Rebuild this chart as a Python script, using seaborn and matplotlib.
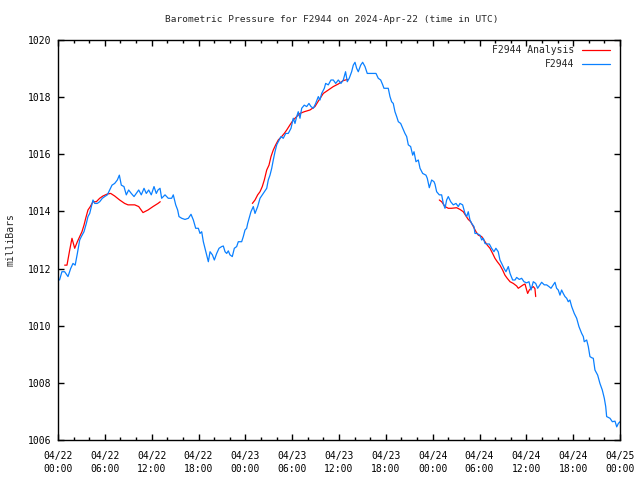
import matplotlib
matplotlib.use("Agg")
import matplotlib.pyplot as plt
import seaborn as sns
import pandas as pd

# Station obs (hours after 04/22 00:00 UTC, mb)
obs_hours = [0.2, 0.5, 0.85, 1.28, 1.62, 1.92, 2.2, 2.48, 2.78, 2.99, 3.33, 3.63, 3.84, 4.06, 4.27, 4.48,
             4.7, 5.03, 5.34, 5.68, 5.98, 6.32, 6.62, 6.92, 7.26, 7.6, 7.86, 8.11, 8.45, 8.75, 9.05, 9.39,
             9.74, 10.03, 10.34, 10.67, 11.02, 11.31, 11.62, 11.95, 12.3, 12.59, 12.81, 13.07, 13.28, 13.71,
             14.13, 14.56, 14.77, 15.08, 15.33, 15.5, 15.85, 16.27, 16.7, 17.04, 17.34, 17.64, 17.98, 18.19,
             18.41, 18.62, 18.83, 19.05, 19.26, 19.48, 19.78, 20.03, 20.33, 20.63, 20.97, 21.18, 21.4, 21.61,
             21.82, 22.03, 22.33, 22.59, 22.89, 23.1, 23.53, 23.74, 23.96, 24.17, 24.3, 24.51, 24.72, 25.02,
             25.24, 25.58, 25.88, 26.17, 26.43, 26.74, 26.94, 27.16, 27.38, 27.58, 27.8, 28.02, 28.22, 28.57,
             28.86, 29.17, 29.5, 29.85, 30.14, 30.36, 30.58, 30.78, 31.0, 31.22, 31.55, 31.86, 32.15, 32.41,
             32.71, 33.01, 33.35, 33.56, 33.78, 34.12, 34.29, 34.63, 34.97, 35.27, 35.58, 35.91, 36.25, 36.55,
             36.84, 37.06, 37.31, 37.62, 37.83, 38.05, 38.26, 38.47, 38.78, 39.03, 39.33, 39.62, 40.19, 40.74,
             41.03, 41.34, 41.6, 41.76, 42.31, 42.53, 42.74, 42.95, 43.17, 43.39, 43.6, 43.9, 44.16, 44.45,
             44.67, 44.88, 45.18, 45.44, 45.61, 45.86, 46.16, 46.38, 46.72, 47.14, 47.31, 47.57, 47.87, 48.17,
             48.3, 48.51, 48.85, 49.15, 49.36, 49.58, 49.79, 50.0, 50.31, 50.64, 50.99, 51.28, 51.5, 51.84,
             52.14, 52.36, 52.56, 52.78, 53.0, 53.29, 53.42, 53.64, 54.06, 54.28, 54.49, 54.7, 54.92, 55.26,
             55.55, 55.85, 56.1, 56.4, 56.62, 56.84, 57.13, 57.39, 57.69, 57.91, 58.25, 58.55, 58.76, 59.1,
             59.4, 59.7, 60.04, 60.34, 60.6, 60.89, 61.2, 61.45, 61.75, 61.96, 62.3, 62.6, 62.9, 63.16, 63.45,
             63.67, 63.88, 64.09, 64.31, 64.52, 64.73, 64.95, 65.17, 65.37, 65.58, 65.81, 66.14, 66.45, 66.74,
             67.09, 67.3, 67.42, 67.73, 67.94, 68.15, 68.37, 68.58, 68.79, 69.14, 69.43, 69.73, 69.99, 70.17,
             70.29, 70.72, 71.02, 71.36, 71.58, 71.79, 72.0]
obs_mb = [1011.60, 1011.89, 1011.89, 1011.72, 1012.0, 1012.18, 1012.12, 1012.53, 1013.0, 1013.12, 1013.29,
          1013.58, 1013.82, 1013.93, 1014.17, 1014.40, 1014.28, 1014.28, 1014.34, 1014.46, 1014.52, 1014.58,
          1014.75, 1014.92, 1014.98, 1015.10, 1015.27, 1014.92, 1014.87, 1014.58, 1014.75, 1014.63, 1014.52,
          1014.63, 1014.75, 1014.58, 1014.81, 1014.63, 1014.75, 1014.58, 1014.87, 1014.63, 1014.75, 1014.81,
          1014.46, 1014.58, 1014.46, 1014.46, 1014.58, 1014.23, 1014.05, 1013.82, 1013.76, 1013.72, 1013.76,
          1013.90, 1013.70, 1013.41, 1013.41, 1013.23, 1013.29, 1012.94, 1012.71, 1012.48, 1012.24, 1012.59,
          1012.48, 1012.30, 1012.53, 1012.71, 1012.77, 1012.79, 1012.59, 1012.53, 1012.62, 1012.48, 1012.42,
          1012.71, 1012.77, 1012.94, 1012.94, 1013.12, 1013.35, 1013.41, 1013.58, 1013.79, 1013.99, 1014.17,
          1013.93, 1014.17, 1014.46, 1014.58, 1014.69, 1014.81, 1015.10, 1015.27, 1015.51, 1015.80, 1016.09,
          1016.33, 1016.44, 1016.62, 1016.56, 1016.73, 1016.73, 1016.91, 1017.26, 1017.08, 1017.32, 1017.49,
          1017.26, 1017.61, 1017.72, 1017.67, 1017.78, 1017.67, 1017.61, 1017.78, 1018.02, 1017.90, 1018.13,
          1018.31, 1018.48, 1018.43, 1018.60, 1018.60, 1018.48, 1018.60, 1018.48, 1018.60, 1018.89, 1018.54,
          1018.66, 1018.89, 1019.12, 1019.22, 1019.01, 1018.89, 1019.12, 1019.22, 1019.07, 1018.83, 1018.83,
          1018.83, 1018.66, 1018.60, 1018.43, 1018.31, 1018.31, 1018.02, 1017.84, 1017.78, 1017.49, 1017.32,
          1017.14, 1017.08, 1016.91, 1016.73, 1016.62, 1016.33, 1016.27, 1015.97, 1016.09, 1015.74, 1015.80,
          1015.51, 1015.33, 1015.27, 1015.16, 1014.83, 1015.10, 1015.04, 1014.95, 1014.69, 1014.58, 1014.58,
          1014.28, 1014.11, 1014.40, 1014.52, 1014.34, 1014.23, 1014.28, 1014.17, 1014.28, 1014.23, 1013.93,
          1013.82, 1013.99, 1013.70, 1013.58, 1013.47, 1013.23, 1013.23, 1013.17, 1013.0, 1013.06, 1012.88,
          1012.86, 1012.86, 1012.71, 1012.59, 1012.71, 1012.59, 1012.30, 1012.18, 1012.01, 1011.89, 1012.07,
          1011.83, 1011.60, 1011.60, 1011.69, 1011.62, 1011.66, 1011.54, 1011.50, 1011.54, 1011.25, 1011.54,
          1011.48, 1011.31, 1011.43, 1011.52, 1011.43, 1011.43, 1011.37, 1011.31, 1011.43, 1011.52, 1011.31,
          1011.25, 1011.07, 1011.25, 1011.13, 1011.02, 1010.96, 1010.84, 1010.90, 1010.67, 1010.43, 1010.26,
          1009.97, 1009.73, 1009.62, 1009.44, 1009.50, 1009.27, 1008.92, 1008.88, 1008.86, 1008.45, 1008.27,
          1007.98, 1007.75, 1007.46, 1007.17, 1006.82, 1006.76, 1006.64, 1006.66, 1006.46, 1006.58, 1006.64]

# Analysis runs (three separate pieces)
ana1_hours = [0.85, 1.15, 1.5, 1.79, 2.14, 2.48, 2.78, 3.07, 3.33, 3.55, 3.84, 4.14, 4.48, 4.91, 5.34, 5.76,
              6.32, 6.75, 7.26, 7.9, 8.54, 8.97, 9.83, 10.34, 10.89, 11.53, 12.17, 12.81, 13.1]
ana1_mb = [1012.12, 1012.12, 1012.65, 1013.06, 1012.71, 1012.94, 1013.12, 1013.29, 1013.52, 1013.76, 1014.05,
           1014.17, 1014.34, 1014.34, 1014.46, 1014.54, 1014.61, 1014.63, 1014.54, 1014.40, 1014.28, 1014.23,
           1014.23, 1014.17, 1013.96, 1014.05, 1014.17, 1014.28, 1014.34]
ana2_hours = [24.9, 25.24, 25.58, 25.88, 26.17, 26.43, 26.74, 27.03, 27.29, 27.58, 27.89, 28.22, 28.65, 28.99,
              29.3, 29.72, 30.14, 30.58, 31.0, 31.55, 32.28, 32.92, 33.44, 33.99, 34.63, 35.27, 35.91, 36.55,
              37.1]
ana2_mb = [1014.28, 1014.40, 1014.58, 1014.69, 1014.87, 1015.10, 1015.45, 1015.62, 1015.92, 1016.15, 1016.33,
           1016.50, 1016.62, 1016.73, 1016.85, 1017.03, 1017.20, 1017.32, 1017.43, 1017.49, 1017.55, 1017.67,
           1017.90, 1018.13, 1018.25, 1018.37, 1018.46, 1018.58, 1018.62]
ana3_hours = [48.85, 49.15, 49.58, 50.0, 50.43, 51.07, 51.5, 51.92, 52.27, 52.56, 52.87, 53.21, 53.55, 53.85,
              54.28, 54.7, 55.0, 55.34, 55.68, 55.98, 56.28, 56.62, 56.96, 57.26, 57.55, 57.91, 58.33, 58.76,
              58.97, 59.28, 59.6, 59.83, 60.04, 60.17, 60.38, 60.6, 60.89, 61.1, 61.2]
ana3_mb = [1014.40, 1014.34, 1014.17, 1014.11, 1014.11, 1014.13, 1014.07, 1013.99, 1013.84, 1013.72, 1013.64,
           1013.47, 1013.29, 1013.17, 1013.12, 1012.94, 1012.82, 1012.71, 1012.53, 1012.36, 1012.24, 1012.12,
           1011.95, 1011.77, 1011.66, 1011.54, 1011.48, 1011.39, 1011.31, 1011.37, 1011.43, 1011.46, 1011.25,
           1011.13, 1011.25, 1011.31, 1011.37, 1011.30, 1011.02]

tick_hours = [0, 6, 12, 18, 24, 30, 36, 42, 48, 54, 60, 66, 72]
tick_labels = ["04/22\n00:00", "04/22\n06:00", "04/22\n12:00", "04/22\n18:00",
               "04/23\n00:00", "04/23\n06:00", "04/23\n12:00", "04/23\n18:00",
               "04/24\n00:00", "04/24\n06:00", "04/24\n12:00", "04/24\n18:00",
               "04/25\n00:00"]

sns.set_style("ticks")
plt.rcParams["font.family"] = ["DejaVu Sans Mono"]
plt.rcParams["font.size"] = 7

fig = plt.figure(figsize=(6.4, 4.8), dpi=100)
ax = fig.add_axes([58 / 640, 40 / 480, 562 / 640, 400 / 480])

red = "#ff0000"
blue = "#0a80ff"

segments = [(ana1_hours, ana1_mb), (ana2_hours, ana2_mb), (ana3_hours, ana3_mb)]
for i, (h, p) in enumerate(segments):
    sns.lineplot(x=h, y=p, ax=ax, color=red, linewidth=0.9, sort=False,
                 label="F2944 Analysis" if i == 0 else None)

obs = pd.DataFrame({"hours": obs_hours, "mb": obs_mb})
sns.lineplot(data=obs, x="hours", y="mb", ax=ax, color=blue, linewidth=0.9,
             sort=False, label="F2944")

ax.set_xlim(0, 72)
ax.set_ylim(1006, 1020)
ax.set_xticks(tick_hours)
ax.set_xticklabels(tick_labels, fontsize=7, linespacing=1.3)
ax.set_xticks(range(0, 73, 2), minor=True)
ax.set_yticks(range(1006, 1021, 2))
ax.tick_params(axis="y", labelsize=7)

ax.tick_params(which="both", direction="in", top=True, right=True, width=1, colors="black")
ax.tick_params(which="major", length=4)
ax.tick_params(which="minor", length=2.5)
ax.tick_params(axis="x", pad=8)
ax.tick_params(axis="y", pad=5)
for s in ax.spines.values():
    s.set_linewidth(1)
    s.set_color("black")

ax.set_xlabel("")
ax.set_ylabel("milliBars", labelpad=9, fontsize=7)
ax.set_title("Barometric Pressure for F2944 on 2024-Apr-22 (time in UTC)", pad=13, fontsize=6.8, x=0.487)

ax.legend(loc="upper right", bbox_to_anchor=(0.992, 1.0), frameon=False, markerfirst=False,
          fontsize=7, handlelength=2.9, handletextpad=0.8, labelspacing=0.4, borderaxespad=0.15)

fig.savefig("out.png", dpi=100)
